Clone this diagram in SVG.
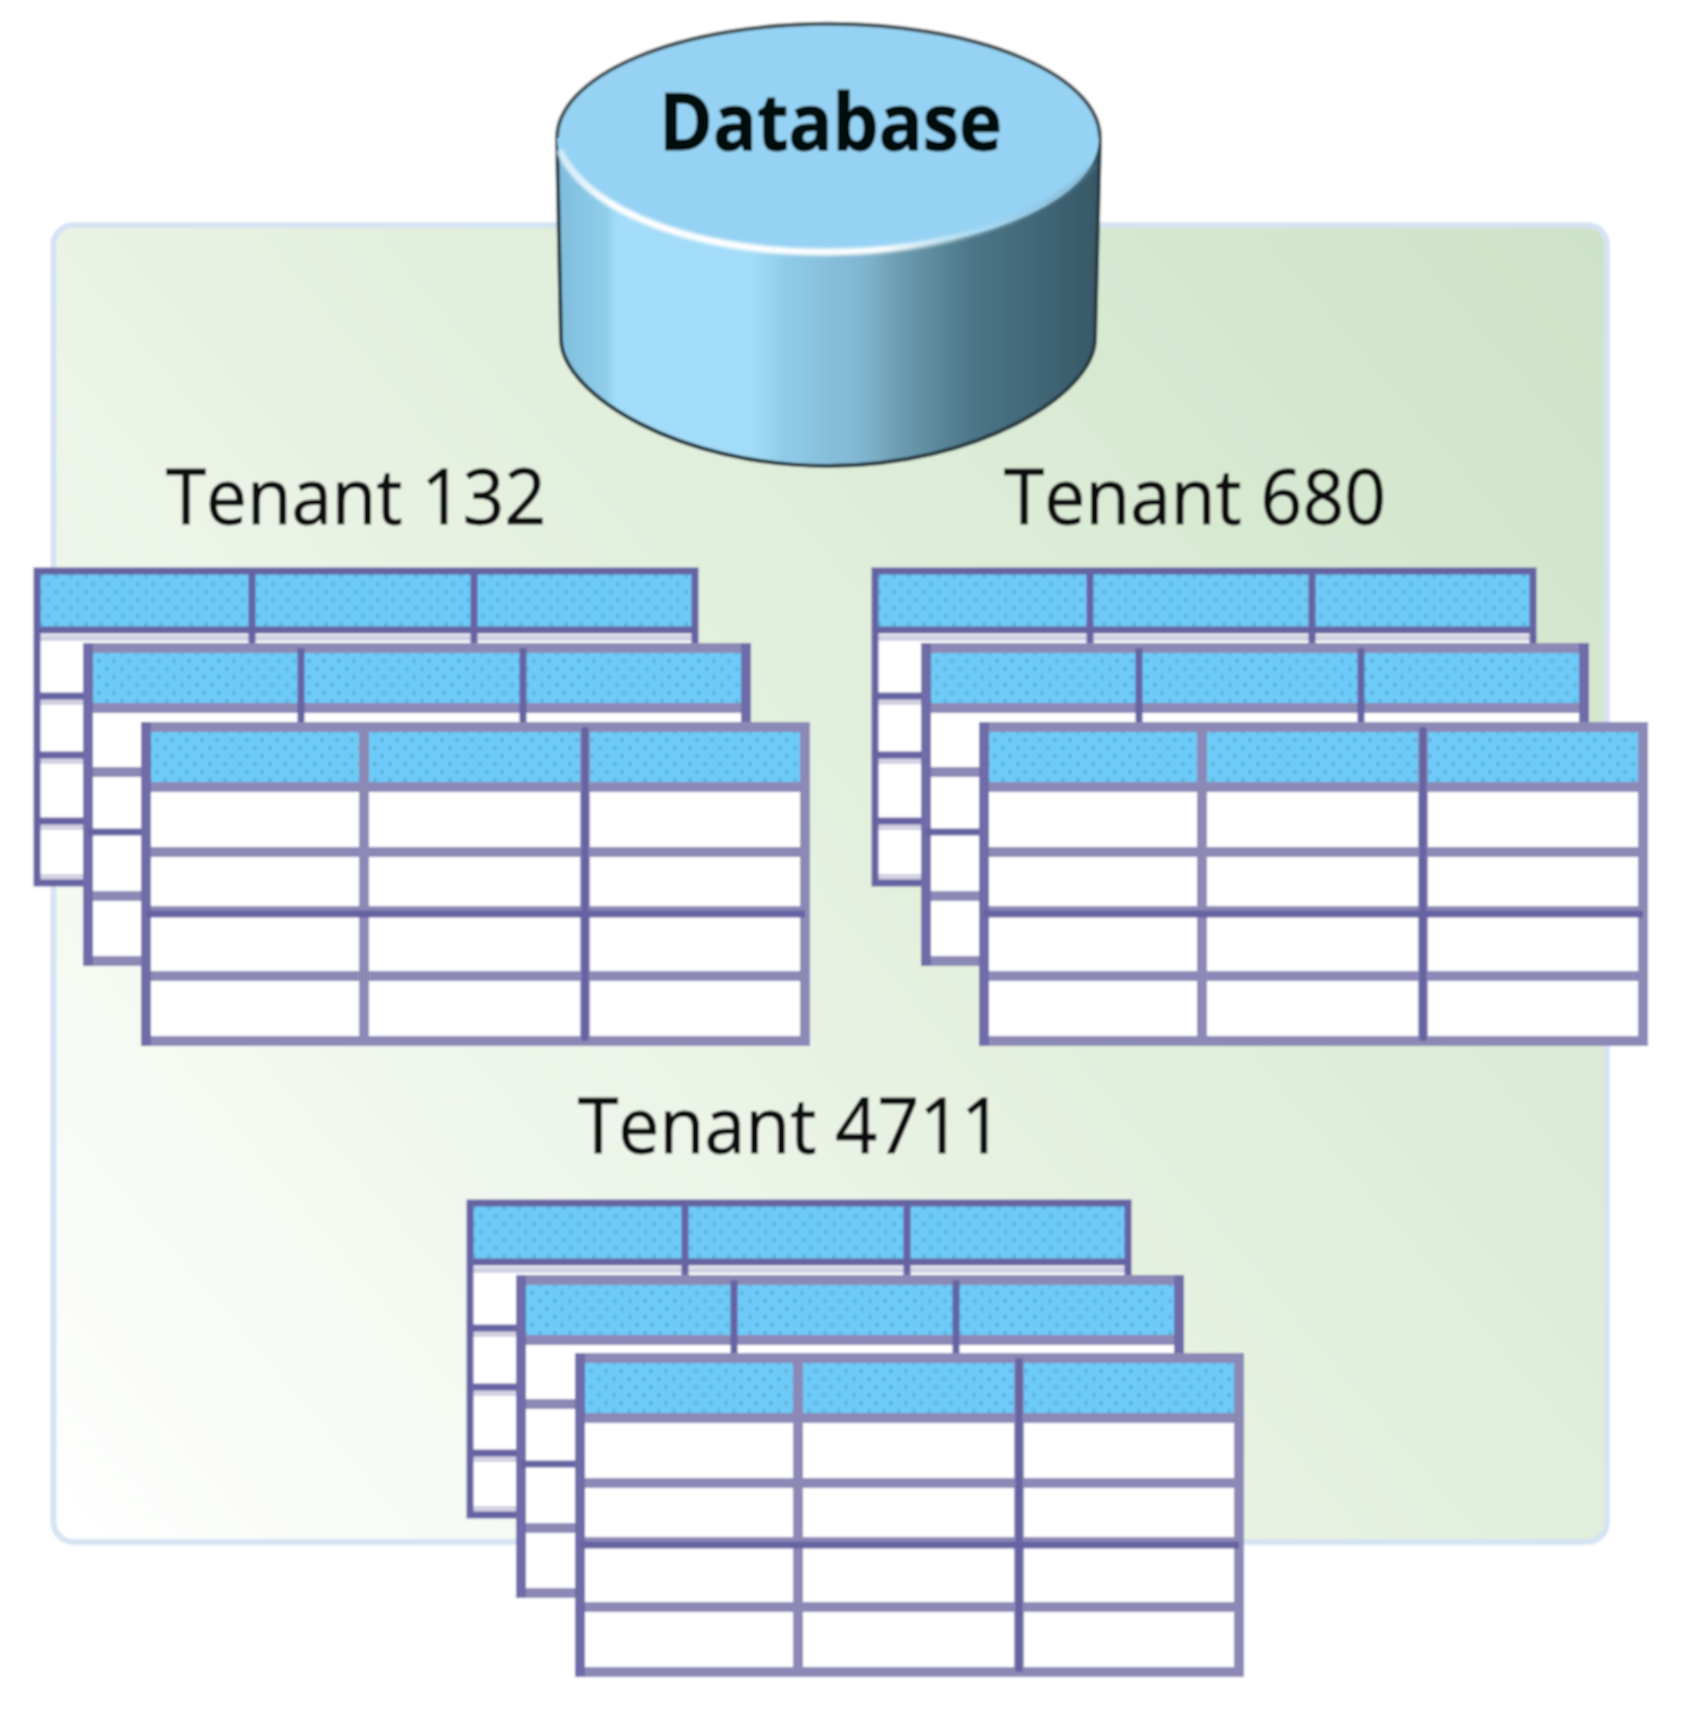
<svg xmlns="http://www.w3.org/2000/svg" xmlns:xlink="http://www.w3.org/1999/xlink" width="1696" height="1720" viewBox="0 0 1696 1720">
<style>
.lbl{font-family:"Open Sans","Noto Sans","Liberation Sans",sans-serif;font-size:76px;fill:#111;stroke:#111;stroke-width:1}
.db{font-family:"Open Sans","Noto Sans","Liberation Sans",sans-serif;font-size:78px;font-weight:700;fill:#050a10;stroke:#050a10;stroke-width:1}
.d{stroke:#6663a3;stroke-width:7;fill:none}
.e{stroke:#6f6ca9;stroke-width:10;fill:none;stroke-linecap:square}
.l{stroke:#8c89b6;stroke-width:10;fill:none;stroke-linecap:square}
.f{stroke:#d3d2e2;stroke-width:6;fill:none}
.hd{fill:url(#dots)}
</style>
<defs>
<filter id="soft" x="0" y="0" width="1" height="1" filterUnits="objectBoundingBox"><feGaussianBlur stdDeviation="0.8"/></filter>
<filter id="glow" x="-5%" y="-20%" width="110%" height="140%"><feGaussianBlur stdDeviation="1.8"/></filter>
<pattern id="dots" width="15" height="16" patternUnits="userSpaceOnUse">
<rect width="15" height="16" fill="#6ecbf8"/>
<rect x="2" y="3" width="4" height="4" fill="#5db5df"/>
<rect x="9" y="11" width="4" height="4" fill="#5db5df"/>
</pattern>
<linearGradient id="panel" gradientUnits="userSpaceOnUse" x1="53" y1="1542" x2="1607" y2="225">
<stop offset="0" stop-color="#ffffff"/>
<stop offset="0.5" stop-color="#e5f1e0"/>
<stop offset="1" stop-color="#cde2c6"/>
</linearGradient>
<linearGradient id="side" gradientUnits="userSpaceOnUse" x1="557" y1="0" x2="1100" y2="0">
<stop offset="0" stop-color="#7fbddd"/>
<stop offset="0.09" stop-color="#90cdea"/>
<stop offset="0.11" stop-color="#a3dcf8"/>
<stop offset="0.36" stop-color="#a3dcf8"/>
<stop offset="0.42" stop-color="#8fcbe8"/>
<stop offset="0.57" stop-color="#7fb4ce"/>
<stop offset="0.62" stop-color="#6f9fb4"/>
<stop offset="0.77" stop-color="#4a7587"/>
<stop offset="1" stop-color="#365866"/>
</linearGradient>
<linearGradient id="hl" gradientUnits="userSpaceOnUse" x1="557" y1="0" x2="1100" y2="0">
<stop offset="0" stop-color="#cfeaf8"/>
<stop offset="0.1" stop-color="#ffffff"/>
<stop offset="0.6" stop-color="#ffffff"/>
<stop offset="0.8" stop-color="#b5dcf0" stop-opacity="0.5"/>
<stop offset="1" stop-color="#5d8597" stop-opacity="0.3"/>
</linearGradient>
<g id="t-back">
<rect x="0" y="0" width="658" height="312" fill="#fff"/>
<rect x="0" y="0" width="658" height="59" class="hd"/>
<path class="f" d="M0 67H658M0 131H658M0 190H658M0 256H658M0 306H658"/>
<path class="d" d="M0 0H658V312H0ZM0 59H658M0 125H658M0 184H658M0 250H658M215 0V312M437 0V312"/>
</g>
<g id="t-mid">
<rect x="0" y="0" width="658" height="313" fill="#fff"/>
<rect x="0" y="0" width="658" height="60" class="hd"/>
<path class="l" d="M0 0H658M0 60H658M0 124H658M0 248H658M0 313H658"/>
<path class="e" d="M0 0V313M658 0V313"/>
<path class="d" d="M0 184H658M213 0V313M435 0V313"/>
</g>
<g id="t-front">
<rect x="0" y="0" width="659" height="314" fill="#fff"/>
<rect x="0" y="0" width="659" height="60" class="hd"/>
<path class="l" d="M0 0H659M0 60H659M0 125H659M0 184H659M0 249H659M0 314H659M218 0V314M659 0V314M439 0V314"/>
<path class="e" d="M0 0V314"/>
<path class="d" d="M0 187H659M439 0V314"/>
</g>
</defs>
<g filter="url(#soft)">
<rect width="1696" height="1720" fill="#fff"/>
<g id="panel-bg"><rect x="53.500" y="225" width="1553.500" height="1317" rx="20" fill="url(#panel)" stroke="#d6e3f3" stroke-width="6"/></g>

<g id="database">
<path d="M557 138L561 340C563 395 680 466 828 466C976 466 1093 395 1095 340L1100 138Z" fill="url(#side)" stroke="#2a3c44" stroke-width="4"/>
<ellipse cx="828" cy="138" rx="271" ry="114" fill="#95d2f3" stroke="none"/>
<path d="M557 138A271 114 0 0 1 1100 138" fill="none" stroke="#46555b" stroke-width="4"/>
<path d="M559 150C590 215 700 252 828 252C930 252 1040 225 1095 165" fill="none" stroke="url(#hl)" stroke-width="7" filter="url(#glow)"/>
<text class="db" x="659" y="150" textLength="343" lengthAdjust="spacingAndGlyphs">Database</text>
</g>

<g id="tenant-132">
<text class="lbl" x="166" y="524" textLength="380" lengthAdjust="spacingAndGlyphs">Tenant 132</text>
<use xlink:href="#t-back" href="#t-back" x="37" y="571"/>
<use xlink:href="#t-mid" href="#t-mid" x="88" y="648"/>
<use xlink:href="#t-front" href="#t-front" x="146" y="727"/>
</g>
<g id="tenant-680">
<text class="lbl" x="1004" y="524" textLength="382" lengthAdjust="spacingAndGlyphs">Tenant 680</text>
<use xlink:href="#t-back" href="#t-back" x="875" y="571"/>
<use xlink:href="#t-mid" href="#t-mid" x="926" y="648"/>
<use xlink:href="#t-front" href="#t-front" x="984" y="727"/>
</g>
<g id="tenant-4711">
<text class="lbl" x="578" y="1153" textLength="425" lengthAdjust="spacingAndGlyphs">Tenant 4711</text>
<use xlink:href="#t-back" href="#t-back" x="470" y="1203"/>
<use xlink:href="#t-mid" href="#t-mid" x="521" y="1280"/>
<use xlink:href="#t-front" href="#t-front" x="580" y="1358"/>
</g>
<g id="connectors"/>
</g>
</svg>
